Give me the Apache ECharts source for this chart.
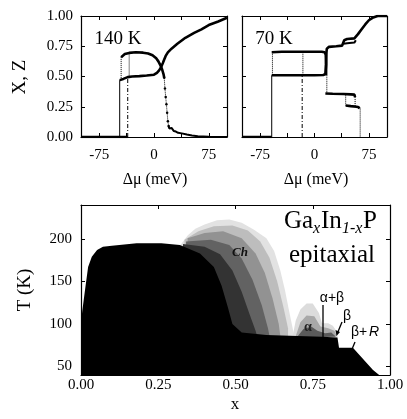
<!DOCTYPE html>
<html><head><meta charset="utf-8">
<script src="https://cdn.jsdelivr.net/npm/echarts@6/dist/echarts.min.js"></script>
<style>html,body{margin:0;padding:0;background:#fff}#c{width:407px;height:419px}</style>
</head><body><div id="c"></div>
<script>
// ---------------- data ----------------
const muTicks = [-75, -37.5, 0, 37.5, 75];
const muLabels = [-75, 0, 75];
const xzTicks = [0, 0.25, 0.5, 0.75, 1];
const tTicks = [50, 100, 150, 200];
const xTicks = [0, 0.25, 0.5, 0.75, 1];

// 140 K panel (Δμ meV, fraction)
const k140Base = [[-100, 0], [-36, 0]];
const k140Lower = [[-47,0.47],[-42,0.48],[-36,0.495],[-30,0.50],[-20,0.503],[-10,0.508],[0,0.515],[4,0.53],[7,0.55],[9.5,0.575],[12,0.61],[14,0.64],[16,0.67],[19,0.70],[24,0.73],[32,0.77],[43,0.82],[55,0.86],[65,0.89],[75,0.925],[88,0.955],[100,0.985]];
const k140Upper = [[-45,0.66],[-40,0.685],[-34,0.695],[-25,0.70],[-15,0.697],[-8,0.69],[-2,0.675],[3,0.65],[6,0.625],[9,0.59],[11,0.56],[13,0.52],[14,0.49]];
const k140Drop = [[14,0.49],[15,0.40],[16,0.33],[17,0.27],[18,0.20],[19,0.13],[20,0.09]];
const k140Tail = [[20,0.09],[21,0.07],[24,0.075],[27,0.05],[30,0.045],[33,0.035],[38,0.03],[45,0.02],[52,0.012],[60,0.007],[75,0.003],[100,0]];
const k140JumpA = [[-47,0],[-47,0.47]];
const k140JumpB = [[-45,0.47],[-45,0.66]];
const k140JumpC = [[-36,0],[-36,0.50]];
const k140JumpD = [[-34,0.50],[-34,0.70]];

// 70 K panel
const k70Base = [[-100,0],[-59,0]];
const k70Z = [[-59,0.51],[-40,0.51],[-20,0.51],[0,0.51],[12,0.512],[15,0.52],[16,0.60],[16.5,0.70],[17,0.73],[20,0.745],[30,0.75],[38,0.755],[40,0.77],[41,0.80],[45,0.81],[55,0.815],[57,0.82],[60,0.85],[65,0.89],[70,0.93],[75,0.965],[80,0.985],[87,1.0],[100,1.0]];
const k70Loop = [[40,0.77],[45,0.775],[55,0.78],[57,0.80]];
const k70X = [[-59,0.70],[-45,0.705],[-20,0.705],[0,0.705],[10,0.705],[14,0.70],[15.5,0.68],[16,0.60],[16,0.51]];
const k70XMid = [[15,0.36],[25,0.357],[40,0.355],[50,0.352],[55,0.35],[56,0.33]];
const k70XLow = [[43,0.26],[50,0.255],[58,0.25],[61,0.245],[62,0.235]];
const k70JumpA = [[-59,0],[-59,0.51]];
const k70JumpB = [[-58,0.51],[-58,0.70]];
const k70JumpC = [[-17,0],[-17,0.51]];
const k70JumpD = [[-16,0.51],[-16,0.70]];
const k70JumpE = [[17,0.51],[17,0.36]];
const k70JumpF = [[43,0.35],[43,0.26]];
const k70JumpG = [[56,0.33],[56,0.25]];
const k70JumpH = [[63,0.235],[63,0]];

// phase diagram (x, T K)
const orderedRegion = [[0,40],[0,100],[0.004,115],[0.013,140],[0.023,167],[0.035,179],[0.052,187],[0.071,191],[0.10,192],[0.18,195],[0.26,195],[0.32,193],[0.385,183],[0.43,167],[0.455,145],[0.475,120],[0.49,100],[0.52,90],[0.6,87],[0.7,86],[0.78,85],[0.83,84],[0.835,72],[0.88,72],[0.945,46],[0.965,40]];
const chLayer1 = [[0.32,192],[0.345,204],[0.37,212],[0.40,217],[0.44,222],[0.48,223],[0.52,219],[0.56,211],[0.60,201],[0.625,186],[0.645,163],[0.66,140],[0.672,118],[0.685,95],[0.69,86],[0.32,86]];
const chLayer2 = [[0.335,199],[0.38,209],[0.43,215],[0.49,216],[0.54,210],[0.58,197],[0.61,178],[0.635,150],[0.655,120],[0.67,95],[0.67,86],[0.335,86]];
const chLayer3 = [[0.345,201],[0.40,207],[0.46,209],[0.52,201],[0.565,183],[0.595,160],[0.62,130],[0.64,100],[0.645,86],[0.345,86]];
const chLayer4 = [[0.34,197],[0.42,199],[0.48,193],[0.52,177],[0.555,152],[0.585,122],[0.605,95],[0.61,86],[0.34,86]];
const chLayer5 = [[0.33,194],[0.40,191],[0.45,182],[0.49,163],[0.52,138],[0.545,112],[0.565,92],[0.57,86],[0.33,86]];
const alphaLayer1 = [[0.685,86],[0.695,104],[0.71,117],[0.73,124],[0.75,124],[0.77,113],[0.78,101],[0.80,101],[0.815,98],[0.83,90],[0.83,84],[0.685,84]];
const alphaLayer2 = [[0.695,86],[0.71,102],[0.73,110],[0.755,109],[0.775,97],[0.80,95],[0.82,92],[0.828,86],[0.695,84]];
const alphaLayer3 = [[0.70,85],[0.72,94],[0.745,97],[0.765,92],[0.79,89],[0.81,90],[0.825,85],[0.70,84]];

// ---------------- chart ----------------
const SERIF = 'Liberation Serif';
const fmt2 = v => Number(v).toFixed(2);
function ax(grid, pos, min, max, ticks, labels, showLabel, fmt, margin) {
  return {
    type: 'value', gridIndex: grid, position: pos, min, max,
    axisLine: { show: true, onZero: false, lineStyle: { color: '#000', width: 1.2 } },
    axisTick: { show: true, inside: true, length: 4, customValues: ticks, lineStyle: { color: '#000', width: 1 } },
    axisLabel: { show: showLabel, customValues: labels, formatter: fmt, color: '#000', fontFamily: SERIF, fontSize: 15, margin: margin },
    splitLine: { show: false }
  };
}
const grids = [
  { left: 81, top: 16, width: 146, height: 121 },
  { left: 242, top: 16, width: 145, height: 121 },
  { left: 81, top: 205, width: 309, height: 170 }
];
const xAxis = [
  ax(0, 'bottom', -100, 100, muTicks, muLabels, true, v => String(v), 11),
  ax(0, 'top', -100, 100, muTicks, muLabels, false),
  ax(1, 'bottom', -100, 100, muTicks, muLabels, true, v => String(v), 11),
  ax(1, 'top', -100, 100, muTicks, muLabels, false),
  ax(2, 'bottom', 0, 1, xTicks, xTicks, true, fmt2, 3),
  ax(2, 'top', 0, 1, xTicks, xTicks, false)
];
const yAxis = [
  ax(0, 'left', 0, 1, xzTicks, xzTicks, true, fmt2, 8),
  ax(0, 'right', 0, 1, xzTicks, xzTicks, false),
  ax(1, 'left', 0, 1, xzTicks, xzTicks, false),
  ax(1, 'right', 0, 1, xzTicks, xzTicks, false),
  ax(2, 'left', 40, 240, tTicks, tTicks, true, v => String(v), 9),
  ax(2, 'right', 40, 240, tTicks, tTicks, false)
];

function L(data, panel, width, type, sym) {
  const idx = panel * 2;
  return {
    type: 'line', xAxisIndex: idx, yAxisIndex: idx, data,
    showSymbol: !!sym, symbol: 'circle', symbolSize: sym || 0,
    itemStyle: { color: '#000' },
    lineStyle: { color: '#000', width, type: type || 'solid' },
    silent: true, animation: false, z: 3
  };
}
function poly(pts, color, z) {
  return {
    type: 'custom', coordinateSystem: 'cartesian2d', xAxisIndex: 4, yAxisIndex: 4,
    data: [[0.5, 100]], z, silent: true, clip: true, animation: false,
    renderItem: (params, api) => ({
      type: 'polygon', shape: { points: pts.map(p => api.coord(p)) },
      style: { fill: color }
    })
  };
}

const series = [
  L(k140Base, 0, 2.5), L(k140Lower, 0, 2.6), L(k140Upper, 0, 2.6),
  L(k140Drop, 0, 1, 'dotted', 2.5), L(k140Tail, 0, 2),
  L(k140JumpA, 0, 1), L(k140JumpB, 0, 1, 'dotted'), L(k140JumpC, 0, 1, [4, 2, 1, 2]), L(k140JumpD, 0, 1, 'dotted'),
  L(k70Base, 1, 2.5), L(k70Z, 1, 2.6), L(k70Loop, 1, 2), L(k70X, 1, 2.6), L(k70XMid, 1, 2.6), L(k70XLow, 1, 2.6),
  L(k70JumpA, 1, 1), L(k70JumpB, 1, 1, 'dotted'), L(k70JumpC, 1, 1, [4, 2, 1, 2]), L(k70JumpD, 1, 1, 'dotted'),
  L(k70JumpE, 1, 1, 'dotted'), L(k70JumpF, 1, 1, 'dotted'), L(k70JumpG, 1, 1, 'dotted'), L(k70JumpH, 1, 1, 'dotted'),
  poly(chLayer1, '#e2e2e2', 1), poly(alphaLayer1, '#dcdcdc', 1),
  poly(chLayer2, '#bdbdbd', 2), poly(alphaLayer2, '#a8a8a8', 2),
  poly(chLayer3, '#929292', 3), poly(alphaLayer3, '#5a5a5a', 3),
  poly(chLayer4, '#626262', 4),
  poly(chLayer5, '#333333', 5),
  poly(orderedRegion, '#000000', 6)
];

function txt(x, y, text, size, opts) {
  return Object.assign({
    type: 'text', x, y, z: 100,
    style: Object.assign({ text, fill: '#000', font: size + 'px "' + SERIF + '"', align: 'center', verticalAlign: 'middle' }, (opts && opts.style) || {})
  }, (opts && opts.el) || {});
}
const graphic = [
  txt(118, 39, '140 K', 19),
  txt(274, 39, '70 K', 19),
  txt(155, 180, 'Δμ (meV)', 16),
  txt(316, 180, 'Δμ (meV)', 16),
  txt(20, 77, 'X, Z', 19, { el: { rotation: Math.PI / 2 } }),
  txt(25, 290, 'T (K)', 19, { el: { rotation: Math.PI / 2 } }),
  txt(235, 405, 'x', 17),
  txt(284, 221, 'Ga', 25, { style: { align: 'left' } }),
  txt(313, 229, 'x', 16, { style: { align: 'left', font: 'italic 16px "' + SERIF + '"' } }),
  txt(321, 221, 'In', 25, { style: { align: 'left' } }),
  txt(342, 229, '1-x', 16, { style: { align: 'left', font: 'italic 16px "' + SERIF + '"' } }),
  txt(363, 221, 'P', 25, { style: { align: 'left' } }),
  txt(332, 255, 'epitaxial', 25),
  txt(240, 253, 'Ch', 13, { style: { font: 'italic bold 13px "' + SERIF + '"', fill: '#111' } }),
  txt(308, 327, 'α', 14, { style: { font: 'bold 14px "' + SERIF + '"', fill: '#222' } }),
  txt(332, 298, 'α+β', 14, { style: { font: '14px "Liberation Sans"' } }),
  txt(347, 316, 'β', 14, { style: { font: '14px "Liberation Sans"' } }),
  { type: 'line', z: 100, shape: { x1: 323, y1: 305, x2: 323, y2: 340 }, style: { stroke: '#000', lineWidth: 1.3 } },
  { type: 'line', z: 100, shape: { x1: 342, y1: 322, x2: 337.5, y2: 333 }, style: { stroke: '#000', lineWidth: 1.3 } },
  { type: 'polygon', z: 100, shape: { points: [[336.5, 336], [335.5, 330], [340, 332]] }, style: { fill: '#000' } },
  { type: 'line', z: 100, shape: { x1: 355, y1: 342, x2: 352.5, y2: 348 }, style: { stroke: '#000', lineWidth: 1.3 } },
  txt(359, 332, 'β+', 14, { style: { font: '14px "Liberation Sans"' } }),
  txt(374, 332, 'R', 14, { style: { font: 'italic 14px "Liberation Sans"' } })
];

const chart = echarts.init(document.getElementById('c'), null, { renderer: 'canvas' });
chart.setOption({
  backgroundColor: '#fff', animation: false,
  grid: grids, xAxis, yAxis, series, graphic
});
</script>
</body></html>
